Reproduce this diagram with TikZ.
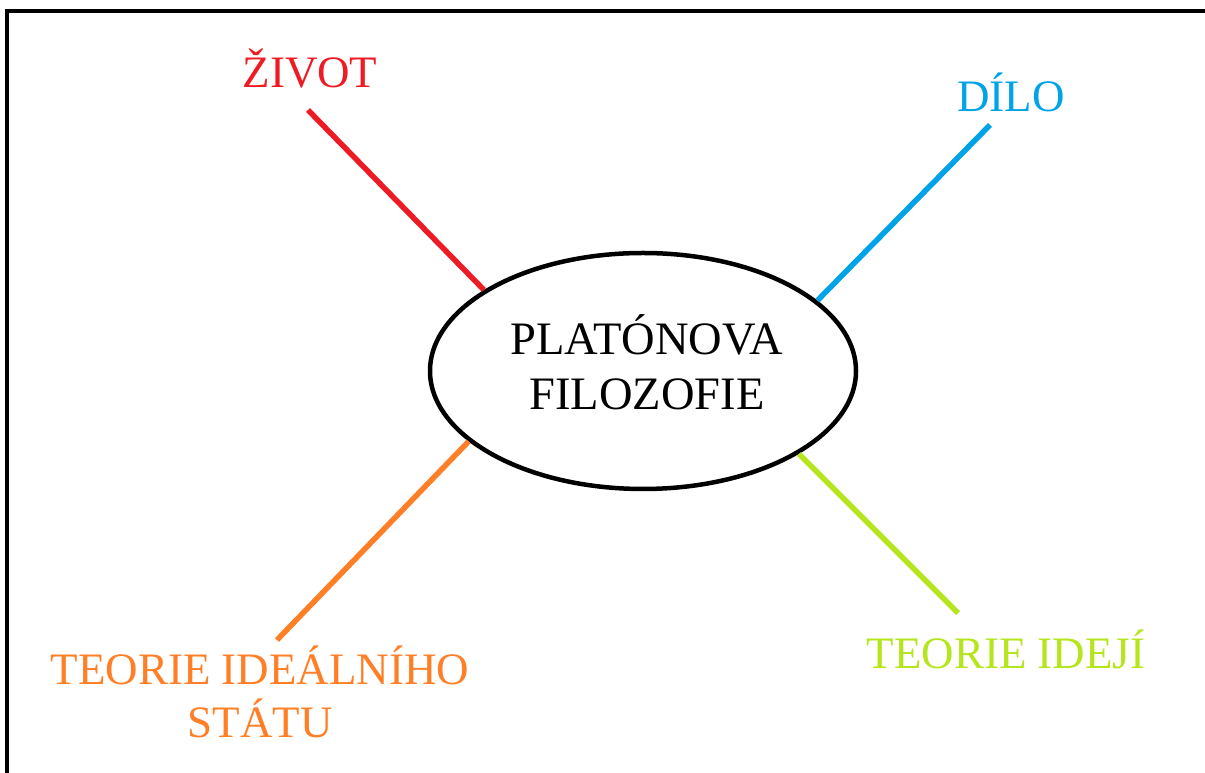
\documentclass[tikz,border=0pt]{standalone}
\usepackage{fontspec}
\setmainfont{Liberation Serif}
\usetikzlibrary{shapes.geometric}
\definecolor{pred}{HTML}{ED1C24}
\definecolor{pblue}{HTML}{00A2E8}
\definecolor{porange}{HTML}{FF7F27}
\definecolor{plime}{HTML}{B5E61D}
\begin{document}
\begin{tikzpicture}[x=1pt,y=1pt,
  lbl/.style={inner sep=0pt,anchor=base,font=\fontsize{45}{53}\selectfont,align=center},
  branch/.style={line width=5.5pt},
  hub/.style={ellipse,draw=black,line width=4.5pt,minimum width=426pt,minimum height=236pt,inner sep=0pt}]
\useasboundingbox (0,0) rectangle (1205,773);
\draw[line width=3.5pt] (7,0) -- (7,762) -- (1205,762);
\node[hub] (e) at (643,402) {};
\node[lbl,font=\fontsize{46.5}{55}\selectfont,anchor=center] (t) at (647,411) {PLATÓNOVA\\FILOZOFIE};
\node[lbl,text=pred] (zivot) at (310,685) {ŽIVOT};
\node[lbl,text=pblue] (dilo) at (1011,661) {DÍLO};
\node[lbl,text=porange] (stat) at (260,35) {TEORIE IDEÁLNÍHO\\STÁTU};
\node[lbl,text=plime] (idej) at (1006,104) {TEORIE IDEJÍ};
\coordinate (cr) at (308,663);
\coordinate (cb) at (990,648);
\coordinate (co) at (277,133);
\coordinate (cg) at (958,160);
\draw[branch,pred] (e.153) -- (cr);
\draw[branch,pblue] (e.22) -- (cb);
\draw[branch,porange] (e.202) -- (co);
\draw[branch,plime] (e.332) -- (cg);
\end{tikzpicture}
\end{document}
